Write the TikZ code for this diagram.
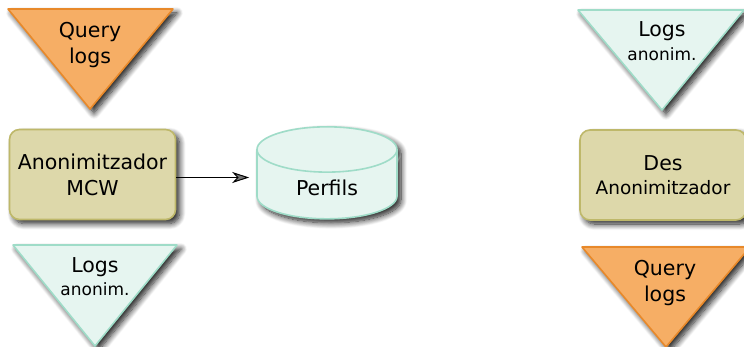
\documentclass[tikz,border=0pt]{standalone}
\usepackage{fontspec}
\setmainfont{DejaVu Sans}
\usetikzlibrary{shapes.geometric,arrows.meta,shadows.blur}
\definecolor{qfill}{HTML}{F6AE65}
\definecolor{qline}{HTML}{E8892A}
\definecolor{afill}{HTML}{DDD8AA}
\definecolor{aline}{HTML}{BEB86A}
\definecolor{lfill}{HTML}{E6F5F0}
\definecolor{lline}{HTML}{9FDCC8}
\newcommand{\smalltxt}{\fontsize{17}{20}\selectfont}
\tikzset{
  shade drop/.style={blur shadow={shadow xshift=4pt,shadow yshift=-4pt,shadow blur radius=6pt,
    shadow blur steps=10,shadow opacity=90}},
  query tri/.style={fill=qfill,draw=qline,line width=1.6pt,line join=round,shade drop},
  logs tri/.style={fill=lfill,draw=lline,line width=1.6pt,line join=round,shade drop},
  anon box/.style={rectangle,rounded corners=10pt,fill=afill,draw=aline,line width=1.6pt,
    minimum width=166pt,minimum height=90pt,align=center,inner sep=0pt,shade drop},
}
\begin{document}
\begin{tikzpicture}[x=1pt,y=-1pt,font=\fontsize{20.5}{26}\selectfont]
    \useasboundingbox (0,0) rectangle (744,347);
    \clip (0,0) rectangle (744,347);

    % triangles
    \draw[query tri] (8,9) -- (173,9) -- (90,109) -- cycle;
    \draw[logs tri] (13,245) -- (177,245) -- (95,346) -- cycle;
    \draw[logs tri] (578,10) -- (744,10) -- (662,110) -- cycle;
    \draw[query tri] (582,247) -- (750,247) -- (666,347) -- cycle;

    \node[anon box] (mcw) at (92.5,174.5) {Anonimitzador\\MCW};
    \node[anon box] (des) at (663,175) {Des\\[-2pt]{\fontsize{18.5}{20}\selectfont Anonimitzador}};
    \node[cylinder,shape border rotate=90,aspect=0.66,fill=lfill,draw=lline,line width=1.6pt,
        minimum width=140pt,minimum height=92pt,shade drop] (perfils) at (327,188) {Perfils};

    \begin{scope}[every node/.style={align=center,inner sep=0pt}]
        \node (qin) at (90,44.7) {Query\\logs};
        \node (lout) at (95,277) {Logs\\[-3pt]{\smalltxt anonim.}};
        \node (lin) at (662,41.5) {Logs\\[-2pt]{\smalltxt anonim.}};
        \node (qout) at (665,283) {Query\\logs};
    \end{scope}

    \draw[line width=1pt,-{Stealth[length=17pt,width=11pt,inset=5pt]},shorten >=7pt]
        ([yshift=-3pt]mcw.east) -- ([yshift=-3pt]mcw.east -| perfils.west);
\end{tikzpicture}
\end{document}
